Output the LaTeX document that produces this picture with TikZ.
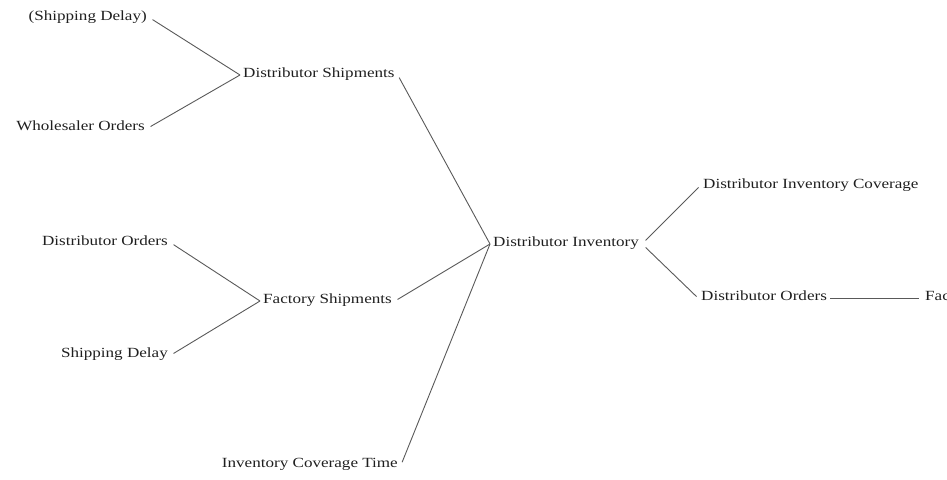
\documentclass[tikz,border=0pt]{standalone}
\usepackage{fontspec}
\setmainfont[FakeStretch=1.22]{Liberation Serif}
\begin{document}
\begin{tikzpicture}[x=1pt,y=-1pt,
  lbl/.style={inner xsep=3pt, inner ysep=1pt, font=\fontsize{14}{16}\selectfont, text=black!88},
  lft/.style={lbl, anchor=mid west},
  rgt/.style={lbl, anchor=mid east},
  link/.style={draw=black!65, line width=0.9pt},
]
\useasboundingbox (0,0) rectangle (947,479);
\clip (0,0) rectangle (947,479);

% left branch feeding the shipments
\node[rgt] (shipdelayp) at (150,18)  {(Shipping Delay)};
\node[rgt] (wholesale)  at (148,128) {Wholesaler Orders};
\node[lft] (distship)   at (240,75)  {Distributor Shipments};

\node[rgt] (distordL)   at (171,243) {Distributor Orders};
\node[rgt] (shipdelay)  at (171,355) {Shipping Delay};
\node[lft] (factship)   at (260,301) {Factory Shipments};

\node[rgt] (covtime)    at (401,465) {Inventory Coverage Time};

% central stock
\node[lft] (distinv)    at (490,244) {Distributor Inventory};

% right branch
\node[lft] (distcov)    at (700,186) {Distributor Inventory Coverage};
\node[lft] (distordR)   at (698,298) {Distributor Orders};
\node[lft] (factshipR)  at (922,298) {Factory Shipments};

% connectors
\draw[link, shorten <=3pt] (shipdelayp.mid east) -- (distship.mid west);
\draw[link, shorten <=3pt] (wholesale.mid east)  -- (distship.mid west);
\draw[link, shorten <=3pt] (distship.mid east)   -- (distinv.mid west);

\draw[link, shorten <=3pt] (distordL.mid east)   -- (factship.mid west);
\draw[link, shorten <=3pt] (shipdelay.mid east)  -- (factship.mid west);
\draw[link, shorten <=3pt] (factship.mid east)   -- (distinv.mid west);

\draw[link, shorten <=3pt] (covtime.mid east)    -- (distinv.mid west);

\draw[link, shorten <=5pt, shorten >=2pt] (distinv.mid east) -- (distcov.mid west);
\draw[link, shorten <=5pt, shorten >=2pt] (distinv.mid east) -- (distordR.mid west);
\draw[link, shorten >=3pt] (distordR.mid east) -- (factshipR.mid west);
\end{tikzpicture}
\end{document}
